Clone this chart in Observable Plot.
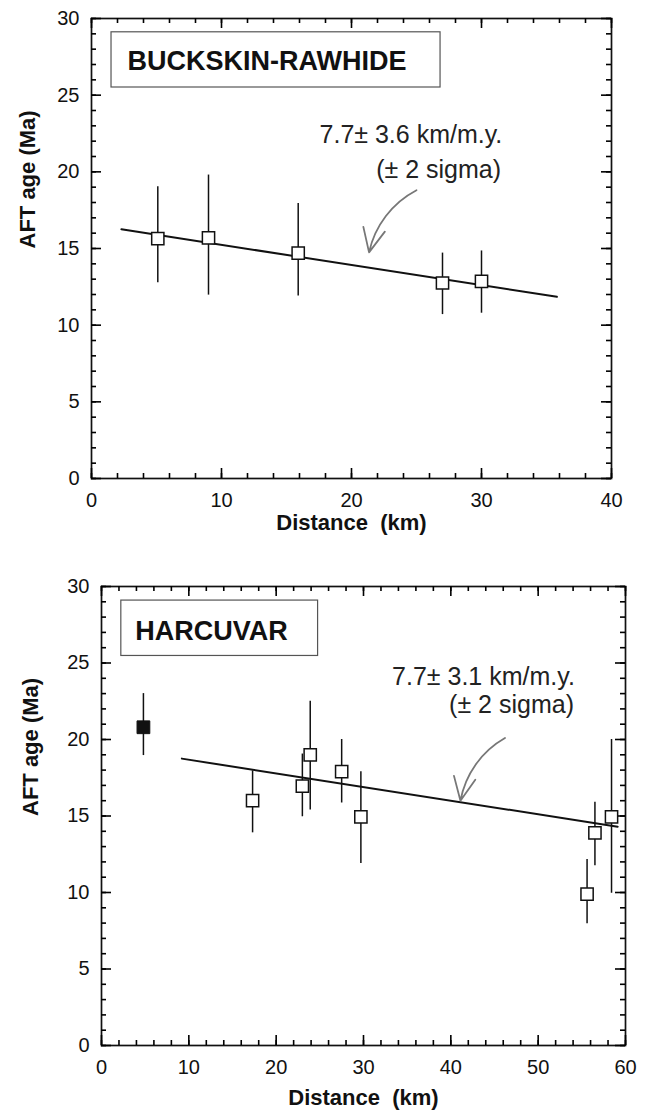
<!DOCTYPE html>
<html><head><meta charset="utf-8">
<script src="https://cdn.jsdelivr.net/npm/d3@7"></script>
<script src="https://cdn.jsdelivr.net/npm/@observablehq/plot@0.6"></script>
<style>
body{margin:0;background:#fff;}
#chart{width:650px;}
#chart svg{display:block;}
</style></head><body><div id="chart"></div>
<script>
// ---- Panel A: Buckskin-Rawhide ----
const brTitle = "BUCKSKIN-RAWHIDE";
const brDistance = [5.1, 9.0, 15.9, 27.0, 30.0];
const brAge      = [15.65, 15.7, 14.7, 12.75, 12.85];
const brAgeLow   = [12.76, 11.96, 11.91, 10.69, 10.78];
const brAgeHigh  = [19.02, 19.79, 17.93, 14.7, 14.84];
const brSolid    = [false, false, false, false, false];
const brFitX = [2.3, 35.8];
const brFitY = [16.25, 11.85];
const brNote = ["7.7\u00b1 3.6 km/m.y.", "(\u00b1 2 sigma)"];
const brXTicks = [0, 10, 20, 30, 40];

// ---- Panel B: Harcuvar ----
const hvTitle = "HARCUVAR";
const hvDistance = [4.8, 17.3, 23.0, 23.9, 27.5, 29.7, 55.6, 56.5, 58.4];
const hvAge      = [20.8, 16.0, 16.95, 19.0, 17.9, 14.95, 9.9, 13.9, 14.95];
const hvAgeLow   = [18.95, 13.9, 14.95, 15.4, 15.85, 11.9, 7.95, 11.75, 9.95];
const hvAgeHigh  = [23.0, 17.95, 19.05, 22.5, 20.0, 17.9, 12.15, 15.9, 20.0];
const hvSolid    = [true, false, false, false, false, false, false, false, false];
const hvFitX = [9.2, 59.1];
const hvFitY = [18.75, 14.3];
const hvNote = ["7.7\u00b1 3.1 km/m.y.", "(\u00b1 2 sigma)"];
const hvXTicks = [0, 10, 20, 30, 40, 50, 60];

const yTicks = [0, 5, 10, 15, 20, 25, 30];
const xLabel = "Distance\u00a0\u00a0(km)";
const yLabel = "AFT age (Ma)";

const FONT = "'Liberation Sans', Arial, Helvetica, sans-serif";
const INK = "#111";

function rows(xs, ys, lo, hi, solid) {
  return xs.map((x, i) => ({x, y: ys[i], lo: lo[i], hi: hi[i], solid: solid[i]}));
}

function panel(cfg) {
  const pts = rows(cfg.dist, cfg.age, cfg.low, cfg.high, cfg.solid);
  const fit = cfg.fitX.map((x, i) => ({x, y: cfg.fitY[i]}));
  const xMax = cfg.xTicks[cfg.xTicks.length - 1];
  const xMinor = d3.range(0, xMax + 0.001, 2);
  const yMinor = d3.range(0, 31, 1);
  const H = cfg.height - cfg.mT - cfg.mB;
  const W = 650 - cfg.mL - cfg.mR;
  const tk = {stroke: "#000", strokeWidth: 1.6};
  const MINOR = 5, MAJOR = 10;
  const ticks = [
    // bottom & top edges (inward)
    Plot.ruleX(xMinor, {x: d => d, insetTop: H - MINOR, ...tk}),
    Plot.ruleX(cfg.xTicks, {x: d => d, insetTop: H - MAJOR, ...tk}),
    Plot.ruleX(xMinor, {x: d => d, insetBottom: H - MINOR, ...tk}),
    Plot.ruleX(cfg.xTicks, {x: d => d, insetBottom: H - MAJOR, ...tk}),
    // left & right edges (inward)
    Plot.ruleY(yMinor, {y: d => d, insetRight: W - MINOR, ...tk}),
    Plot.ruleY(yTicks, {y: d => d, insetRight: W - MAJOR, ...tk}),
    Plot.ruleY(yMinor, {y: d => d, insetLeft: W - MINOR, ...tk}),
    Plot.ruleY(yTicks, {y: d => d, insetLeft: W - MAJOR, ...tk})
  ];
  return Plot.plot({
    width: 650,
    height: cfg.height,
    marginLeft: cfg.mL, marginRight: cfg.mR, marginTop: cfg.mT, marginBottom: cfg.mB,
    x: {domain: [0, xMax]},
    y: {domain: [0, 30]},
    style: {fontFamily: FONT, fontSize: "20px", color: INK, background: "white", overflow: "visible"},
    marks: [
      Plot.axisX({anchor: "bottom", ticks: cfg.xTicks, tickSize: 0, tickPadding: 14, fontSize: 20, label: null, fill: INK}),
      Plot.axisY({anchor: "left", ticks: yTicks, tickSize: 0, tickPadding: 12, fontSize: 20, label: null, fill: INK}),
      Plot.frame({stroke: INK, strokeWidth: 1.7}),
      ...ticks,
      // title box
      Plot.rect([cfg.title], {x1: cfg.box[0], x2: cfg.box[1], y1: cfg.box[2], y2: cfg.box[3], fill: "white", stroke: "#555", strokeWidth: 1.2}),
      Plot.text([cfg.title], {x: cfg.titleAt[0], y: cfg.titleAt[1], text: d => d, textAnchor: "start", fontWeight: "bold", fontSize: 27, fill: INK}),
      // regression line
      Plot.line(fit, {x: "x", y: "y", stroke: INK, strokeWidth: 2}),
      // error bars
      Plot.ruleX(pts, {x: "x", y1: "lo", y2: "hi", stroke: INK, strokeWidth: 1.5}),
      // symbols
      Plot.dot(pts.filter(d => !d.solid), {x: "x", y: "y", symbol: "square", r: 6.9, fill: "white", stroke: INK, strokeWidth: 1.5}),
      Plot.dot(pts.filter(d => d.solid), {x: "x", y: "y", symbol: "square", r: 7.2, fill: INK, stroke: INK, strokeWidth: 1}),
      // annotation
      Plot.text(cfg.note, {x: (d, i) => cfg.noteX[i], y: (d, i) => cfg.noteY[i], text: d => d, textAnchor: "end", lineAnchor: "bottom", fontSize: 25, fill: "#222"}),
      Plot.arrow([cfg.arrow], {x1: "x1", y1: "y1", x2: "x2", y2: "y2", bend: cfg.bend, headLength: 28, headAngle: 50, stroke: "#777", strokeWidth: 1.8}),
      // axis titles
      Plot.text([xLabel], {frameAnchor: "bottom", dy: cfg.xTitleDy, text: d => d, fontWeight: "bold", fontSize: 22, fill: INK}),
      Plot.text([yLabel], {frameAnchor: "left", dx: cfg.yTitleDx, rotate: -90, text: d => d, fontWeight: "bold", fontSize: 22, fill: INK})
    ]
  });
}

const topPanel = panel({
  height: 545, mL: 91, mR: 39, mT: 18, mB: 67,
  dist: brDistance, age: brAge, low: brAgeLow, high: brAgeHigh, solid: brSolid,
  fitX: brFitX, fitY: brFitY, xTicks: brXTicks,
  title: brTitle, box: [1.54, 26.85, 25.5, 29.1], titleAt: [2.77, 27.2],
  note: brNote, noteX: [31.6, 31.5], noteY: [21.85, 19.63],
  arrow: {x1: 25.0, y1: 18.8, x2: 21.35, y2: 14.75}, bend: -25,
  xTitleDy: 51, yTitleDx: -64
});
const bottomPanel = panel({
  height: 572, mL: 101, mR: 25, mT: 41, mB: 72,
  dist: hvDistance, age: hvAge, low: hvAgeLow, high: hvAgeHigh, solid: hvSolid,
  fitX: hvFitX, fitY: hvFitY, xTicks: hvXTicks,
  title: hvTitle, box: [2.27, 24.8, 25.46, 29.08], titleAt: [3.87, 27.1],
  note: hvNote, noteX: [54.2, 54.1], noteY: [23.55, 21.7],
  arrow: {x1: 46.2, y1: 20.1, x2: 41.1, y2: 16.0}, bend: -25,
  xTitleDy: 59, yTitleDx: -71
});
document.getElementById("chart").append(topPanel, bottomPanel);
</script></body></html>
